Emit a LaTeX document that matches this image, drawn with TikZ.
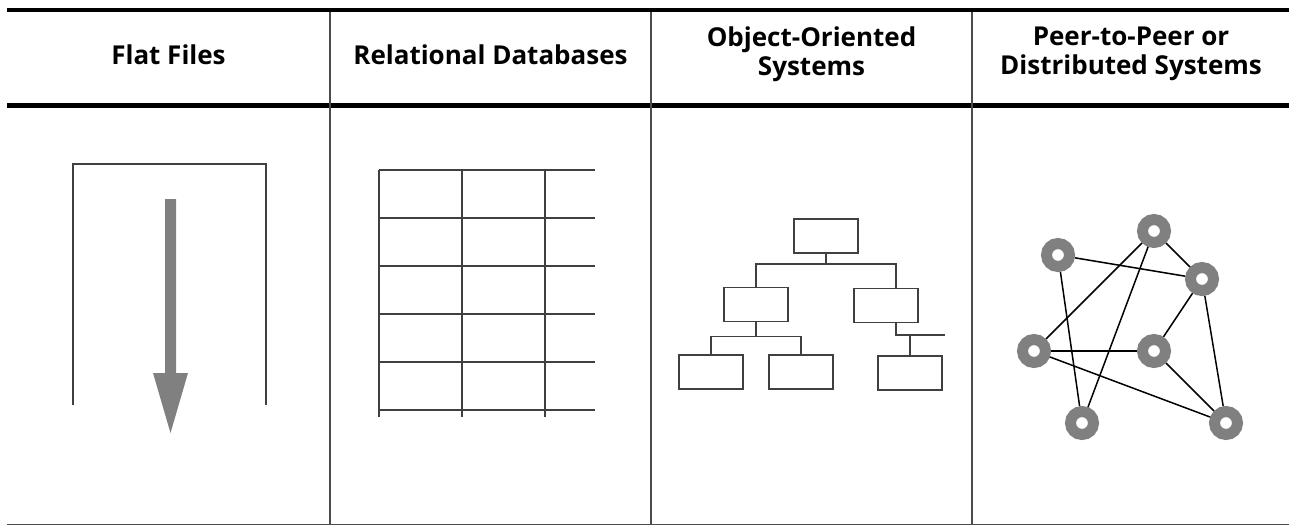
\documentclass[tikz,border=0pt]{standalone}
\usepackage{fontspec}
\setmainfont{Open Sans}
\usetikzlibrary{positioning}

\begin{document}
\begin{tikzpicture}[x=0.5pt,y=-0.5pt,
   hdr/.style={font=\bfseries\fontsize{13}{14.5}\selectfont,align=center,inner sep=0pt},
   rule/.style={line width=0.9pt,draw=black!70},
   cell/.style={line width=0.75pt,draw=black!75},
   obj/.style={draw=black!75,line width=0.75pt,minimum width=32pt,minimum height=17pt,inner sep=0pt},
   peer/.style={circle,draw=gray,line width=5.5pt,minimum size=11.5pt,inner sep=0pt},
   link/.style={line width=0.75pt}]
   \useasboundingbox (0,0) rectangle (1289,527);

   % table frame
   \draw[line width=2.4pt] (7,10) -- (1289,10);
   \draw[line width=2.4pt] (7,105.5) -- (1289,105.5);
   \draw[rule] (7,524.5) -- (1289,524.5);
   \foreach \x in {330,651,972}
      \draw[rule] (\x,12) -- (\x,524.5);

   \node[hdr] (h1) at (168.5,55) {Flat Files};
   \node[hdr] (h2) at (490.5,55) {Relational Databases};
   \node[hdr] (h3) at (811.5,54) {Object-Oriented\\Systems};
   \node[hdr] (h4) at (1131,54) {Peer-to-Peer or\\Distributed Systems};

   % flat file: open box with a downward arrow
   \draw[cell] (73,405) -- (73,164) -- (266,164) -- (266,405);
   \fill[gray] (165,199) -- (176,199) -- (176,373) -- (188,373)
      -- (170.5,433) -- (153,373) -- (165,373) -- cycle;

   % relational table
   \foreach \y in {170,218,...,410}
      \draw[cell] (379,\y) -- (595,\y);
   \foreach \x in {379,462,545}
      \draw[cell] (\x,170) -- (\x,417);

   % class tree
   \node[obj] (root) at (826,236) {};
   \node[obj] (left) at (756,304.5) {};
   \node[obj] (right) at (886,305.5) {};
   \node[obj] (ll) at (711,372) {};
   \node[obj] (lr) at (801,372) {};
   \node[obj] (rl) at (910,373) {};
   \coordinate (rj) at (896,335);
   \coordinate (rend) at (945,335);
   \draw[cell] (root.south) -- ++(0,10) -| (left.north);
   \draw[cell] (root.south) ++(0,10) -| (right.north -| rj);
   \draw[cell] (left.south) -- ++(0,14) -| (ll.north);
   \draw[cell] (left.south) ++(0,14) -| (lr.north);
   \draw[cell] (right.south -| rj) -- (rj) -- (rend);
   \draw[cell] (rl.north) -- (rl.north |- rj);

   % peer network
   \node[peer] (a) at (1058,255) {};
   \node[peer] (b) at (1154,231) {};
   \node[peer] (c) at (1202,279) {};
   \node[peer] (d) at (1034,351) {};
   \node[peer] (e) at (1154,351) {};
   \node[peer] (f) at (1082,423) {};
   \node[peer] (g) at (1226,423) {};
   \foreach \p/\q in {a/c,a/f,b/c,b/d,b/f,c/e,c/g,d/e,d/g,e/g}
      \draw[link] (\p) -- (\q);
\end{tikzpicture}
\end{document}
